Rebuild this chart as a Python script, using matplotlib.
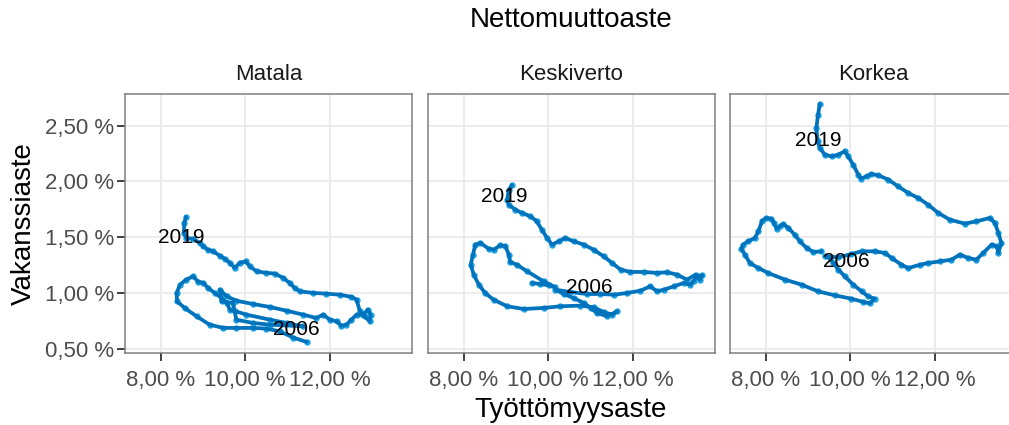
import matplotlib
matplotlib.use("Agg")
import matplotlib.pyplot as plt

plt.rcParams['font.family'] = ['Liberation Sans', 'DejaVu Sans']

# Panel titles (net migration rate groups)
panels = ['Matala', 'Keskiverto', 'Korkea']

# Matala: unemployment rate (%) and vacancy rate (%), 2006 -> 2019
matala_x = [11.45, 11.13, 10.82, 10.50, 10.19, 9.79, 9.48, 9.16, 8.85, 8.57, 8.39, 8.38, 8.46,
            8.61, 8.77, 8.89, 9.01, 9.12, 9.28, 9.44, 9.56, 9.64, 10.03, 10.58, 10.98, 11.37,
            10.58, 10.19, 9.79, 9.75, 9.71, 9.44, 9.40, 9.56, 9.79, 10.19, 10.58, 10.98, 11.37,
            11.68, 11.84, 12.00, 12.16, 12.27, 12.39, 12.51, 12.63, 12.78, 12.90, 12.96, 12.94,
            12.82, 12.71, 12.63, 12.51, 12.23, 11.92, 11.60, 11.29, 11.17, 11.05, 10.90, 10.70,
            10.50, 10.27, 10.11, 10.01, 9.87, 9.75, 9.64, 9.52, 9.40, 9.24, 9.12, 9.01, 8.93,
            8.77, 8.61, 8.55, 8.56, 8.60]
matala_y = [0.56, 0.60, 0.655, 0.68, 0.686, 0.686, 0.686, 0.715, 0.79, 0.865, 0.924, 1.00, 1.074,
            1.12, 1.148, 1.10, 1.09, 1.045, 1.00, 0.955, 0.91, 0.85, 0.805, 0.76, 0.73, 0.70,
            0.715, 0.73, 0.76, 0.835, 0.91, 0.924, 1.03, 0.97, 0.93, 0.90, 0.874, 0.84, 0.805,
            0.775, 0.805, 0.76, 0.745, 0.706, 0.715, 0.76, 0.805, 0.805, 0.85, 0.805, 0.745,
            0.79, 0.835, 0.94, 0.964, 0.984, 0.993, 1.00, 1.014, 1.044, 1.089, 1.134, 1.173,
            1.18, 1.193, 1.238, 1.283, 1.27, 1.224, 1.27, 1.304, 1.334, 1.373, 1.388, 1.417, 1.448,
            1.484, 1.493, 1.538, 1.627, 1.68]

# Keskiverto
keski_x = [9.62, 9.81, 10.01, 10.17, 9.89, 9.50, 9.26, 9.10, 9.07, 8.99, 8.87, 8.71, 8.59, 8.40,
           8.28, 8.22, 8.17, 8.24, 8.36, 8.51, 8.71, 9.03, 9.42, 9.89, 10.29, 10.76, 11.07, 11.31,
           11.51, 11.63, 11.39, 11.15, 11.00, 10.84, 10.60, 10.37, 10.17, 10.52, 10.92, 11.23,
           11.55, 11.86, 12.18, 12.41, 12.57, 12.73, 12.97, 13.20, 13.36, 13.44, 13.52, 13.64,
           13.58, 13.48, 13.28, 13.04, 12.81, 12.57, 12.26, 11.94, 11.71, 11.51, 11.31, 11.07,
           10.84, 10.60, 10.40, 10.25, 10.09, 9.97, 9.85, 9.73, 9.58, 9.38, 9.22, 9.07, 9.03,
           9.07, 9.14]
keski_y = [1.089, 1.080, 1.068, 1.050, 1.104, 1.194, 1.253, 1.277, 1.343, 1.418, 1.427, 1.388,
           1.397, 1.448, 1.433, 1.343, 1.253, 1.164, 1.074, 0.999, 0.939, 0.880, 0.856, 0.865,
           0.880, 0.886, 0.871, 0.829, 0.805, 0.835, 0.790, 0.820, 0.865, 0.910, 0.954, 0.990,
           1.029, 1.008, 0.990, 0.990, 0.984, 0.999, 1.020, 1.059, 1.014, 1.029, 1.059, 1.089,
           1.074, 1.110, 1.149, 1.158, 1.119, 1.164, 1.119, 1.164, 1.185, 1.179, 1.188, 1.188,
           1.209, 1.268, 1.328, 1.388, 1.433, 1.463, 1.493, 1.463, 1.433, 1.493, 1.567, 1.642,
           1.687, 1.717, 1.747, 1.791, 1.836, 1.926, 1.965]

# Korkea
korkea_x = [9.32, 9.13, 8.97, 8.81, 8.69, 8.54, 8.42, 8.34, 8.26, 8.20, 8.14, 8.02, 7.92, 7.83,
            7.75, 7.59, 7.47, 7.43, 7.51, 7.63, 7.83, 8.06, 8.46, 8.85, 9.24, 9.64, 10.03, 10.31,
            10.46, 10.58, 10.42, 10.27, 10.07, 9.87, 9.72, 9.60, 9.52, 9.40, 9.72, 10.03, 10.27,
            10.58, 10.82, 10.98, 11.21, 11.37, 11.65, 11.84, 12.12, 12.39, 12.59, 12.79, 12.98,
            13.14, 13.34, 13.46, 13.50, 13.57, 13.50, 13.42, 13.30, 12.98, 12.71, 12.35, 12.08,
            11.84, 11.61, 11.37, 11.13, 10.90, 10.66, 10.50, 10.39, 10.25, 10.19, 10.07, 9.95,
            9.87, 9.72, 9.56, 9.40, 9.28, 9.23, 9.20, 9.24, 9.28]
korkea_y = [1.373, 1.367, 1.403, 1.463, 1.522, 1.582, 1.618, 1.597, 1.576, 1.627, 1.666, 1.672,
            1.648, 1.552, 1.493, 1.463, 1.433, 1.397, 1.343, 1.268, 1.223, 1.179, 1.119, 1.074,
            1.014, 0.978, 0.948, 0.919, 0.907, 0.948, 0.969, 1.014, 1.074, 1.149, 1.209, 1.268,
            1.313, 1.328, 1.319, 1.349, 1.373, 1.373, 1.358, 1.313, 1.253, 1.223, 1.253, 1.268,
            1.283, 1.298, 1.343, 1.313, 1.298, 1.358, 1.433, 1.418, 1.358, 1.448, 1.537, 1.627,
            1.672, 1.642, 1.621, 1.657, 1.717, 1.791, 1.851, 1.896, 1.956, 2.016, 2.055, 2.067,
            2.046, 2.025, 2.061, 2.150, 2.225, 2.270, 2.240, 2.225, 2.240, 2.300, 2.359, 2.479,
            2.599, 2.694]

series_x = [matala_x, keski_x, korkea_x]
series_y = [matala_y, keski_y, korkea_y]

# Year labels: (x, y) per panel
label_2006 = [(11.21, 0.67), (10.96, 1.044), (9.91, 1.283)]
label_2019 = [(8.50, 1.50), (8.95, 1.866), (9.24, 2.365)]

x_ticks = [8, 10, 12]
x_ticklabels = ['8,00 %', '10,00 %', '12,00 %']
y_ticks = [0.5, 1.0, 1.5, 2.0, 2.5]
y_ticklabels = ['0,50 %', '1,00 %', '1,50 %', '2,00 %', '2,50 %']

W, H = 1009, 425
fig = plt.figure(figsize=(W / 100, H / 100), dpi=100)

lefts = [125, 428, 730]
pw, top, bottom = 287, 94, 353
line_col = '#0073BC'
pt_col = '#1CA3E3'

for i in range(3):
    ax = fig.add_axes([lefts[i] / W, (H - bottom) / H, pw / W, (bottom - top) / H])
    ax.set_xlim(7.16, 13.94)
    ax.set_ylim(0.461, 2.784)
    ax.grid(True, color='#EBEBEB', linewidth=1.3)
    ax.set_axisbelow(True)
    for s in ax.spines.values():
        s.set_color('#7F7F7F')
        s.set_linewidth(1.1)
    ax.plot(series_x[i], series_y[i], 'o', color=pt_col, markersize=4.6,
            markeredgewidth=0, zorder=2)
    ax.plot(series_x[i], series_y[i], '-', color=line_col, linewidth=2.7,
            solid_joinstyle='round', solid_capstyle='round', zorder=3)
    ax.text(*label_2006[i], '2006', fontsize=15, ha='center', va='center', zorder=4)
    ax.text(*label_2019[i], '2019', fontsize=15, ha='center', va='center', zorder=4)
    ax.set_xticks(x_ticks)
    ax.set_xticklabels(x_ticklabels)
    ax.set_yticks(y_ticks)
    if i == 0:
        ax.set_yticklabels(y_ticklabels)
        ax.tick_params(axis='y', length=6, width=1.3, color='#333333',
                       labelsize=16, labelcolor='#4D4D4D', pad=2)
    else:
        ax.tick_params(axis='y', length=0, labelleft=False)
    ax.tick_params(axis='x', length=6, width=1.3, color='#333333',
                   labelsize=16, labelcolor='#4D4D4D', pad=6)
    ax.text(0.5, 1 + 19 / (bottom - top), panels[i], transform=ax.transAxes,
            ha='center', va='center', fontsize=16, color='#1A1A1A')

fig.text(571 / W, 1 - 20 / H, 'Nettomuuttoaste', ha='center', va='center', fontsize=20)
fig.text(571 / W, 1 - 410 / H, 'Työttömyysaste', ha='center', va='center', fontsize=20)
fig.text(24 / W, 1 - 223.5 / H, 'Vakanssiaste', ha='center', va='center', fontsize=20,
         rotation=90)

fig.savefig('out.png', dpi=100)
